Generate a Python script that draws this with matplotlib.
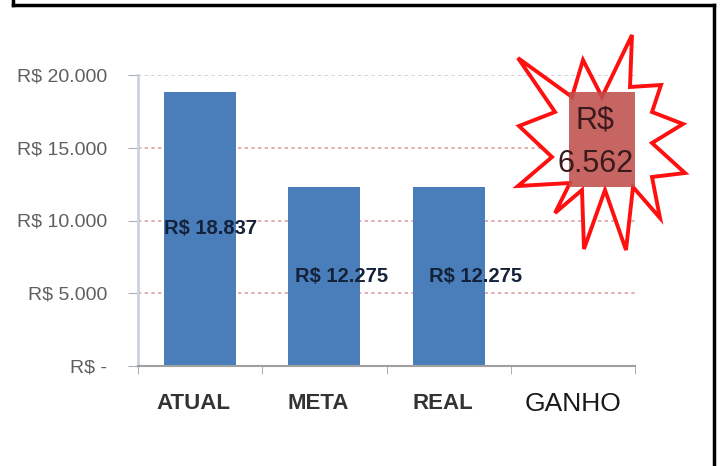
import matplotlib.pyplot as plt
from matplotlib.patches import Polygon
from matplotlib.lines import Line2D
import numpy as np

categorias = ["ATUAL", "META", "REAL", "GANHO"]
valores = [18837, 12275, 12275]
rotulos = ["R$ 18.837", "R$ 12.275", "R$ 12.275"]
ganho_base = 12275
ganho = 6562
ganho_rotulo = "R$\n6.562"
yticks = [0, 5000, 10000, 15000, 20000]
ytick_labels = ["R$ -", "R$ 5.000", "R$ 10.000", "R$ 15.000", "R$ 20.000"]

W, H = 721, 466
fig = plt.figure(figsize=(W / 100, H / 100), dpi=100)
plt.rcParams['font.family'] = ['Liberation Sans', 'DejaVu Sans']

# moldura preta (sem borda inferior)
for xs, ys in [([13, 13], [0, 5]), ([13, 714], [5, 5]), ([714, 714], [5, 466])]:
    fig.add_artist(Line2D([x / W for x in xs], [1 - y / H for y in ys],
                          color="black", lw=2.5, transform=fig.transFigure))

ax = fig.add_axes([138 / W, 1 - 366 / H, 497 / W, 291 / H])
x = np.arange(len(valores))
ax.bar(x, valores, width=0.58, color="#4A7EBB", zorder=2)
ax.set_xlim(-0.5, 3.5)
ax.set_ylim(0, 20000)

ax.set_yticks(yticks)
ax.set_yticklabels(ytick_labels, fontsize=14, color="#5f5f5f")
ax.set_xticks(np.arange(len(categorias)))
ax.set_xticklabels([])
ax.set_xticks(np.arange(-0.5, 3.6, 1), minor=True)
ax.tick_params(axis="x", which="major", length=0)
ax.tick_params(axis="x", which="minor", length=6, color="#a0a0a0", direction="out")
ax.tick_params(axis="y", length=7, color="#b0b0b0", pad=15)
ax.grid(axis="y", color="#dba3a3", linestyle=(0, (2, 2)), lw=1.2, zorder=0)
ax.get_ygridlines()[-1].set_color("#c8c8d0")
for s in ["top", "right"]:
    ax.spines[s].set_visible(False)
ax.spines["left"].set_color("#c8d2e0")
ax.spines["left"].set_linewidth(2)
ax.spines["bottom"].set_color("#a0a0a0")
ax.spines["bottom"].set_linewidth(1.5)

for i, cat in enumerate(categorias):
    if cat == "GANHO":
        ax.text(i, -0.13, cat, transform=ax.get_xaxis_transform(), ha="center",
                va="center", fontsize=19, color="#1a1a1a")
    else:
        ax.text(i - 0.05, -0.13, cat, transform=ax.get_xaxis_transform(),
                ha="center", va="center", fontsize=16, fontweight="bold",
                color="#333333")

offs = [0.08, 0.14, 0.22]
for i, (v, r) in enumerate(zip(valores, rotulos)):
    ax.text(i + offs[i], v / 2, r, ha="center", va="center", fontsize=14.5,
            fontweight="bold", color="#14223a", zorder=4)

# explosão (forma decorativa)
estrela = [(632, 35), (630, 87), (661, 85), (652, 112), (683, 124), (652, 143),
           (685, 173), (652, 177), (660, 218), (633, 187), (626, 250), (605, 190),
           (584, 249), (582, 190), (555, 213), (570, 183), (518, 186), (552, 157),
           (519, 126), (555, 112), (518, 58), (572, 97), (583, 60), (602, 97)]
pts = [(px / W, 1 - py / H) for px, py in estrela]
fig.add_artist(Polygon(pts, closed=True, facecolor="white", edgecolor="none",
                       transform=fig.transFigure, zorder=3))
fig.add_artist(Polygon(pts, closed=True, facecolor="none", edgecolor="#ff1010",
                       lw=2.8, transform=fig.transFigure, zorder=4))

ax_g = fig.add_axes(ax.get_position(), sharex=ax, sharey=ax, zorder=5)
ax_g.axis("off")
ax_g.patch.set_visible(False)
ax_g.bar(3.27, ganho, bottom=ganho_base, width=0.61, color="#C0504D", alpha=0.88)
ax_g.text(3.18, ganho_base + ganho * 0.47, ganho_rotulo, ha="center", va="center",
          fontsize=22, color="#3a1a1a", linespacing=1.6)

fig.savefig("out.png", dpi=100)
